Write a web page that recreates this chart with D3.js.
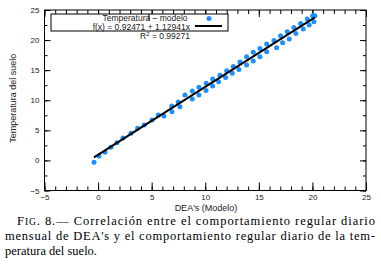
<!DOCTYPE html>
<html>
<head>
<meta charset="utf-8">
<script src="https://cdn.jsdelivr.net/npm/d3@7"></script>
<style>
  body { margin: 0; background: #fff; }
  svg { display: block; }
</style>
</head>
<body>
<div id="chart"></div>
<script>
// DEA's (Modelo) on x, temperatura del suelo on y
let modeloX = [-0.38, 0.08, 0.64, 1.2, 1.76, 2.32, 3.07, 3.69, 4.3, 5.03, 5.62, 6.15, 6.87, 6.9, 7.48, 7.64,
    8.11, 8.79, 9.41, 10.09, 10.69, 11.37, 12.0, 12.61, 13.24, 13.86, 14.48, 15.1, 15.73, 16.41, 17.03, 17.65, 18.27, 18.9, 19.52, 20.02, 20.23,
    8.79, 9.41, 10.07, 10.69, 11.25, 11.9, 12.52, 13.14, 13.86, 14.48, 15.1, 15.73, 16.66, 17.22, 17.84, 18.46, 19.14, 19.7, 20.14];
let temperaturaY = [-0.3, 0.73, 1.35, 2.17, 2.94, 3.72, 4.5, 5.33, 5.88, 6.7, 7.54, 7.37, 9.06, 8.1, 9.7, 8.92,
    10.86, 11.53, 12.14, 12.81, 13.52, 14.14, 14.9, 15.63, 16.35, 17.23, 17.96, 18.62, 19.34, 19.95, 20.72, 21.38, 22.11, 22.77, 23.49, 24.04, 24.04,
    10.2, 10.86, 11.61, 12.36, 13.07, 13.8, 14.47, 15.13, 15.85, 16.51, 17.23, 18.06, 18.72, 19.55, 20.17, 21.11, 21.83, 22.49, 23.04];

// fit printed in the legend
let fitIntercept = 0.92471;
let fitSlope = 1.12941;
let fitR2 = 0.99271;

let xTicks = [-5, 0, 5, 10, 15, 20, 25];
let yTicks = [-5, 0, 5, 10, 15, 20, 25];

let captionLines = [
    "Correlación entre el comportamiento regular diario",
    "mensual de DEA's y el comportamiento regular diario de la tem-",
    "peratura del suelo."
];

const W = 381, H = 272;
const margin = {top: 10, right: 15, bottom: 81.5, left: 44.5};
const width = W - margin.left - margin.right;
const height = H - margin.top - margin.bottom;

const svg = d3.select("#chart").append("svg")
    .attr("width", W)
    .attr("height", H);

const g = svg.append("g")
    .attr("transform", "translate(" + margin.left + "," + margin.top + ")");

let x = d3.scaleLinear().domain([-5, 25]).range([0, width]);
let y = d3.scaleLinear().domain([-5, 25]).range([height, 0]);

const fmt = d => d < 0 ? "\u2212" + Math.abs(d) : d;
const tickFont = "'Liberation Sans', Arial, sans-serif";

// minor + major ticks, all pointing inside
let xMinor = d3.range(-5, 25.01, 1);
let yMinor = d3.range(-5, 25.01, 2.5);

function drawTicks(axisG) {
    axisG.selectAll(".domain").remove();
    axisG.selectAll("text").remove();
}

// bottom
g.append("g").attr("transform", "translate(0," + height + ")")
    .call(d3.axisBottom(x).tickValues(xMinor).tickSize(-4).tickFormat(""))
    .call(drawTicks);
g.append("g").attr("transform", "translate(0," + height + ")")
    .call(d3.axisBottom(x).tickValues(xTicks).tickSize(-8).tickPadding(4).tickFormat(fmt))
    .call(ax => ax.select(".domain").remove())
    .call(ax => ax.selectAll("text").attr("font-family", tickFont).attr("font-size", 8).attr("fill", "#222"));
// top
g.append("g")
    .call(d3.axisTop(x).tickValues(xMinor).tickSize(-4).tickFormat(""))
    .call(drawTicks);
g.append("g")
    .call(d3.axisTop(x).tickValues(xTicks).tickSize(-7).tickFormat(""))
    .call(drawTicks);
// left
g.append("g")
    .call(d3.axisLeft(y).tickValues(yMinor).tickSize(-3).tickFormat(""))
    .call(drawTicks);
g.append("g")
    .call(d3.axisLeft(y).tickValues(yTicks).tickSize(-6).tickPadding(5).tickFormat(fmt))
    .call(ax => ax.select(".domain").remove())
    .call(ax => ax.selectAll("text").attr("font-family", tickFont).attr("font-size", 8).attr("fill", "#222"));
// right
g.append("g").attr("transform", "translate(" + width + ",0)")
    .call(d3.axisRight(y).tickValues(yMinor).tickSize(-3).tickFormat(""))
    .call(drawTicks);
g.append("g").attr("transform", "translate(" + width + ",0)")
    .call(d3.axisRight(y).tickValues(yTicks).tickSize(-6).tickFormat(""))
    .call(drawTicks);

g.selectAll(".tick line").attr("stroke", "#000").attr("stroke-width", 1);

// frame
g.append("rect")
    .attr("width", width).attr("height", height)
    .attr("fill", "none").attr("stroke", "#000").attr("stroke-width", 1);

// points
let points = modeloX.map((v, i) => ({x: v, y: temperaturaY[i]}));
g.append("g").selectAll("circle")
    .data(points)
    .enter().append("circle")
    .attr("cx", d => x(d.x))
    .attr("cy", d => y(d.y))
    .attr("r", 2.5)
    .attr("fill", "#1e8fff");

// regression line over the data range
let xmin = d3.min(modeloX), xmax = d3.max(modeloX);
g.append("line")
    .attr("x1", x(xmin)).attr("y1", y(fitIntercept + fitSlope * xmin))
    .attr("x2", x(xmax)).attr("y2", y(fitIntercept + fitSlope * xmax))
    .attr("stroke", "#000").attr("stroke-width", 2);

// legend box
const leg = svg.append("g").attr("font-family", tickFont).attr("font-size", 8.5).attr("fill", "#222");
leg.append("rect")
    .attr("x", 51).attr("y", 14).attr("width", 177).attr("height", 17)
    .attr("fill", "#fff").attr("stroke", "#000").attr("stroke-width", 1);
leg.append("line")
    .attr("x1", 149).attr("x2", 149).attr("y1", 14).attr("y2", 20.5)
    .attr("stroke", "#000").attr("stroke-width", 1);
leg.append("text").attr("x", 145).attr("y", 21).attr("text-anchor", "middle")
    .text("Temperatura \u2013 modelo");
leg.append("text").attr("x", 190).attr("y", 29.5).attr("text-anchor", "end")
    .text("f(x) = " + fitIntercept + " + " + fitSlope + "x");
leg.append("circle").attr("cx", 209).attr("cy", 18.5).attr("r", 2.5).attr("fill", "#1e8fff");
leg.append("line").attr("x1", 195).attr("x2", 222).attr("y1", 26).attr("y2", 26)
    .attr("stroke", "#000").attr("stroke-width", 2);
let r2Text = leg.append("text").attr("x", 190).attr("y", 38.5).attr("text-anchor", "end");
r2Text.append("tspan").text("R");
r2Text.append("tspan").attr("font-size", 6).attr("dy", -3).text("2");
r2Text.append("tspan").attr("dy", 3).text(" = " + fitR2);

// axis titles
svg.append("text")
    .attr("transform", "translate(16," + (margin.top + height / 2 - 2) + ")rotate(-90)")
    .attr("text-anchor", "middle")
    .attr("font-family", tickFont).attr("font-size", 9).attr("fill", "#222")
    .text("Temperatura del suelo");
svg.append("text")
    .attr("x", 206).attr("y", 210.5)
    .attr("text-anchor", "middle")
    .attr("font-family", tickFont).attr("font-size", 9).attr("fill", "#222")
    .text("DEA's (Modelo)");

// caption
const capFont = "'Liberation Serif', 'DejaVu Serif', serif";
let c1 = svg.append("text").attr("x", 17).attr("y", 225)
    .attr("font-family", capFont).attr("font-size", 12.5).attr("fill", "#000")
    .attr("textLength", 358).attr("lengthAdjust", "spacing");
c1.append("tspan").text("F");
c1.append("tspan").attr("font-size", 9.5).text("IG");
c1.append("tspan").text(". 8.\u2014 " + captionLines[0]);
svg.append("text").attr("x", 5).attr("y", 240)
    .attr("font-family", capFont).attr("font-size", 12.5).attr("fill", "#000")
    .attr("textLength", 370).attr("lengthAdjust", "spacing")
    .text(captionLines[1]);
svg.append("text").attr("x", 5).attr("y", 255)
    .attr("font-family", capFont).attr("font-size", 12.5).attr("fill", "#000")
    .text(captionLines[2]);
</script>
</body>
</html>
